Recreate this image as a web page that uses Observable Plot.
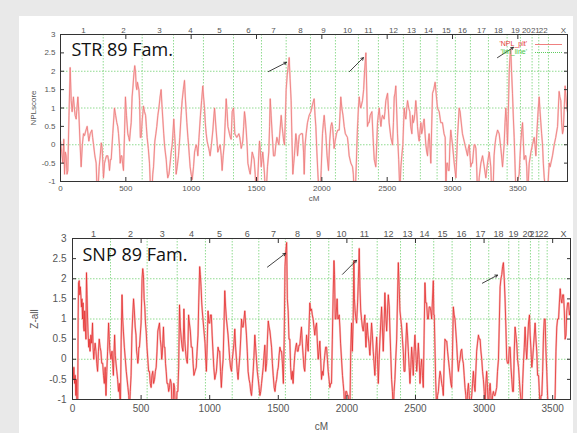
<!DOCTYPE html>
<html><head><meta charset="utf-8">
<script src="https://cdn.jsdelivr.net/npm/d3@7"></script>
<script src="https://cdn.jsdelivr.net/npm/@observablehq/plot@0.6"></script>
<style>
html,body{margin:0;padding:0;background:#e9e9e9;}
#page{position:relative;width:577px;height:433px;overflow:hidden;background:#e9e9e9;}
#sheet{position:absolute;left:19px;top:16px;width:554px;height:417px;background:#fff;}
#top{position:absolute;left:0;top:0;}
#bot{position:absolute;left:0;top:205px;}
.leg{position:absolute;font:7px "Liberation Sans",Arial,sans-serif;text-align:right;width:60px;line-height:8px;}
.legline{position:absolute;height:0;width:27px;}
</style></head><body>
<div id="page">
<div id="sheet"></div>
<div id="top"></div>
<div id="bot"></div>
<div class="leg" style="left:467px;top:40px;color:#e53a3a">'NPL_plt'</div>
<div class="legline" style="left:535px;top:44px;border-top:1px solid #ef8080"></div>
<div class="leg" style="left:467px;top:48px;color:#45c845">'lim_line'</div>
<div class="legline" style="left:535px;top:52px;border-top:1px dotted #60cc60"></div>
</div>
<script>
const chromNames = ["1","2","3","4","5","6","7","8","9","10","11","12","13","14","15","16","17","18","19","20","21","22","X"];
const yTicks = [-1,-0.5,0,0.5,1,1.5,2,2.5,3];
const xTicks = [0,500,1000,1500,2000,2500,3000,3500];
const gridY = [-1,0,1,2];

// STR panel
const strChromPos = [176,482,757,995,1217,1438,1630,1836,2012,2196,2357,2548,2686,2816,2953,3076,3221,3351,3481,3565,3634,3695,3849];
const strBounds = [327,625,865,1094,1324,1538,1727,1913,2104,2280,2433,2624,2754,2882,3022,3137,3275,3418,3520,3609,3660,3734];
const strArrows = [[1591,1.99,1729,2.24],[2211,1.99,2318,2.37],[3344,2.37,3466,2.65]];
const strCurve = [
[0,0.1],[18,-0.5],[25,0.15],[31,-0.8],[37,-0.2],[43,-0.3],[50,-0.8],[56,-0.7],[65,0.8],[74,2.1],[82,1.2],[89,0.9],[99,1.3],[106,1.0],[112,0.8],[120,0.7],[126,1.0],[133,1.3],[140,0.9],[150,0.0],[158,-0.6],[167,0.0],[176,0.3],[184,0.25],[191,0.35],[204,0.5],[212,0.25],[217,0.1],[227,0.3],[240,0.4],[246,0.2],[253,0.0],[263,-0.3],[273,-0.5],[280,-1.3],[286,-1.3],[296,-0.6],[304,-0.3],[312,0.05],[319,-0.1],[329,-0.9],[337,-0.5],[344,-0.4],[352,-0.3],[362,-0.3],[370,-0.5],[375,-0.7],[382,-0.4],[388,-0.4],[400,0.3],[413,1.0],[422,0.8],[431,0.6],[438,0.5],[444,0.3],[452,-0.1],[457,-0.5],[463,-0.3],[469,-0.3],[475,-0.5],[482,-0.7],[490,0.3],[497,1.3],[505,0.8],[515,0.3],[522,0.2],[528,0.1],[535,0.4],[541,0.6],[548,1.3],[555,1.6],[561,1.9],[568,2.15],[574,2.0],[579,1.6],[584,1.5],[589,1.7],[594,1.6],[600,1.5],[605,1.2],[611,0.2],[617,0.2],[626,0.7],[635,1.05],[643,0.9],[651,0.8],[657,0.5],[663,0.2],[672,-0.1],[681,-0.5],[690,-1.3],[699,-1.3],[706,-0.8],[712,-0.6],[722,0.1],[730,0.3],[737,0.5],[745,0.8],[753,1.0],[762,1.3],[770,1.5],[776,1.1],[783,0.7],[790,0.3],[796,0.0],[802,-0.2],[809,-0.4],[815,-0.7],[821,-0.9],[830,-0.8],[839,-0.5],[847,-0.2],[855,0.0],[862,0.4],[867,0.7],[873,0.3],[878,0.0],[885,-0.8],[893,-0.6],[903,-0.3],[913,0.2],[923,0.8],[931,1.2],[940,1.5],[949,1.75],[955,1.3],[962,0.9],[967,0.6],[975,0.2],[980,0.0],[986,-0.3],[992,-0.6],[1000,-0.8],[1008,-0.95],[1018,-0.6],[1026,-0.2],[1032,-0.1],[1038,0.0],[1045,-0.1],[1051,-0.3],[1060,0.2],[1071,0.8],[1080,1.2],[1089,1.6],[1095,1.3],[1102,1.0],[1108,0.6],[1115,0.3],[1122,0.1],[1128,0.0],[1135,-0.1],[1145,-0.3],[1155,0.0],[1166,0.4],[1172,0.7],[1179,1.0],[1185,0.7],[1191,0.4],[1198,0.1],[1204,-0.2],[1212,-0.1],[1222,0.0],[1230,-0.3],[1237,-0.7],[1245,-0.3],[1253,0.0],[1260,0.6],[1268,1.25],[1275,0.9],[1281,0.5],[1287,0.4],[1293,0.3],[1300,0.2],[1306,0.15],[1314,0.9],[1324,1.0],[1329,0.7],[1334,0.3],[1341,0.25],[1349,0.2],[1357,0.25],[1365,0.3],[1372,0.2],[1383,-0.1],[1390,0.0],[1395,0.1],[1402,0.5],[1408,0.9],[1415,0.7],[1421,0.4],[1428,0.0],[1434,-0.5],[1445,-0.7],[1452,-0.8],[1460,-0.5],[1467,-0.2],[1475,-0.3],[1482,-0.4],[1490,-0.8],[1497,-1.3],[1505,-1.3],[1510,-0.9],[1517,-0.3],[1523,0.1],[1530,-0.2],[1536,-0.6],[1542,-0.4],[1548,-0.2],[1555,-0.5],[1561,-0.8],[1568,-1.3],[1574,-1.3],[1584,-0.6],[1594,-0.2],[1600,0.5],[1605,1.25],[1612,0.8],[1620,0.3],[1625,0.0],[1630,-0.3],[1640,-0.3],[1648,0.0],[1656,0.2],[1663,0.1],[1671,0.0],[1680,0.4],[1689,0.8],[1696,0.5],[1702,0.3],[1708,0.1],[1714,0.0],[1720,0.6],[1727,1.5],[1735,1.9],[1742,2.1],[1750,2.37],[1757,1.8],[1765,1.2],[1771,0.2],[1778,-0.8],
[1785,-0.5],[1790,-0.3],[1801,0.3],[1808,0.1],[1814,-0.3],[1821,0.0],[1827,0.25],[1840,0.3],[1852,0.3],[1860,-0.2],[1865,-0.8],[1872,0.0],[1880,0.3],[1890,0.6],[1903,0.8],[1916,0.9],[1929,1.1],[1941,1.25],[1948,0.8],[1954,0.5],[1962,-0.2],[1970,-0.8],[1978,-1.3],[1988,-1.3],[1995,-0.7],[2005,0.3],[2012,0.6],[2018,0.8],[2025,0.5],[2031,0.25],[2040,-0.3],[2051,-0.7],[2060,0.1],[2069,0.5],[2076,0.6],[2082,0.5],[2088,0.2],[2094,-0.1],[2102,0.1],[2112,0.3],[2122,0.4],[2133,0.4],[2140,0.9],[2145,1.3],[2153,1.0],[2162,0.8],[2171,0.5],[2180,0.3],[2196,0.2],[2202,0.0],[2209,-0.3],[2222,-0.5],[2235,-0.6],[2241,-0.8],[2247,-1.3],[2256,-1.3],[2264,-0.5],[2272,0.4],[2280,1.0],[2286,1.3],[2292,1.1],[2298,1.0],[2311,1.2],[2320,1.5],[2327,2.0],[2337,2.5],[2343,1.6],[2349,0.5],[2356,0.6],[2362,0.6],[2370,0.8],[2383,0.9],[2392,0.2],[2401,-0.4],[2413,-0.6],[2420,0.0],[2426,0.6],[2432,0.8],[2439,1.0],[2446,0.7],[2452,0.5],[2458,0.7],[2464,0.8],[2477,0.7],[2483,0.9],[2490,1.2],[2496,1.3],[2503,1.4],[2509,1.0],[2515,0.6],[2528,0.2],[2541,0.0],[2548,0.6],[2554,1.3],[2560,1.4],[2566,1.6],[2572,1.0],[2579,0.3],[2588,-0.4],[2597,-1.3],[2605,-0.6],[2612,-0.3],[2620,0.0],[2630,1.0],[2636,0.8],[2643,0.7],[2650,1.0],[2656,1.2],[2665,1.0],[2673,0.9],[2680,0.5],[2689,0.3],[2694,0.8],[2700,0.6],[2707,0.7],[2713,0.9],[2719,1.2],[2726,0.9],[2732,0.5],[2740,0.2],[2745,0.1],[2752,0.4],[2758,0.6],[2764,0.3],[2770,0.4],[2777,0.6],[2783,0.7],[2790,0.3],[2796,0.0],[2803,-0.2],[2809,-0.3],[2815,0.1],[2821,0.3],[2828,-0.1],[2834,-0.5],[2840,0.4],[2847,1.4],[2856,1.5],[2867,1.7],[2877,1.3],[2885,1.0],[2898,0.9],[2910,0.6],[2923,0.6],[2935,0.3],[2944,0.2],[2949,-1.3],[2956,-0.5],[2962,-0.5],[2968,-0.7],[2974,-0.7],[2980,0.0],[2987,0.4],[2993,0.2],[3000,0.0],[3013,-0.5],[3026,-0.9],[3038,0.2],[3051,1.0],[3058,0.9],[3064,0.7],[3076,0.3],[3089,0.1],[3102,-0.1],[3115,-0.3],[3121,-0.1],[3128,0.0],[3134,-0.3],[3140,-0.6],[3147,-0.5],[3153,-0.5],[3160,-0.2],[3166,0.0],[3172,0.0],[3179,-0.1],[3185,-0.6],[3191,-1.3],[3198,-1.3],[3204,-0.9],[3217,-0.5],[3230,-0.3],[3243,-0.6],[3255,-0.9],[3268,-0.5],[3281,-0.2],[3293,-0.6],[3300,-1.3],[3310,-1.3],[3318,-0.3],[3325,0.0],[3332,0.2],[3345,0.4],[3357,0.3],[3370,-0.1],[3383,-0.6],[3395,0.0],[3402,0.6],[3408,1.0],[3415,0.6],[3421,0.0],[3428,1.0],[3434,2.0],[3440,2.4],[3446,2.6],[3452,2.0],[3459,1.4],[3466,0.7],[3472,0.2],[3478,-0.5],[3485,-1.3],[3497,-1.0],[3510,-0.8],[3517,-0.3],[3523,0.1],[3530,0.4],[3536,0.6],[3542,0.1],[3548,-0.4],[3555,-0.3],[3561,-0.3],[3568,-0.6],[3574,-1.3],[3580,-1.0],[3587,-0.5],[3600,-0.2],[3612,0.0],[3625,0.2],[3631,0.0],[3638,-0.3],[3645,0.3],[3655,0.9],[3663,1.3],[3670,0.9],[3676,0.6],[3682,0.3],[3689,0.0],[3695,-0.5],[3702,-0.9],[3714,-1.3],[3727,-1.3],[3740,-0.5],[3747,-0.6],[3753,-0.5],[3765,-0.3],[3778,0.0],[3790,0.2],[3804,0.5],[3810,1.0],[3816,1.45],[3822,1.3],[3829,1.2],[3835,0.6],[3842,0.3],[3848,0.4],[3855,1.0],[3862,1.6],[3868,1.3],[3875,1.0],[3880,0.9]
];

// SNP panel
const snpChromPos = [153,423,654,867,1071,1273,1465,1640,1793,1961,2128,2303,2442,2566,2697,2835,2974,3105,3214,3316,3367,3433,3579];
const snpBounds = [277,544,763,969,1164,1358,1552,1735,1868,2039,2221,2391,2500,2633,2767,2901,3034,3180,3253,3338,3399,3460];
const snpArrows = [[1421,2.29,1552,2.63],[1968,2.11,2070,2.46],[2988,1.89,3098,2.09]];
const snpCurve = [
[0,-0.3],[5,-0.5],[10,-0.2],[15,-0.6],[20,-0.4],[24,-0.9],[28,-0.5],[33,-1.3],[38,-1.3],[41,1.0],[44,1.9],[49,1.95],[53,1.6],[57,1.8],[61,1.6],[65,1.3],[69,1.5],[73,1.0],[77,1.4],[81,0.8],[85,0.7],[89,1.2],[93,0.9],[98,0.5],[100,1.5],[102,2.15],[106,1.6],[110,1.0],[114,0.6],[118,0.3],[122,0.5],[128,0.2],[134,0.6],[140,0.4],[146,0.9],[150,0.3],[155,0.0],[159,0.2],[165,0.4],[171,0.2],[177,-0.1],[183,-0.3],[189,0.2],[195,0.5],[201,0.3],[207,0.2],[213,-0.1],[220,-0.1],[226,-0.4],[232,-0.6],[238,-0.2],[244,-0.9],[250,-0.3],[256,0.2],[263,0.9],[268,0.5],[273,0.2],[280,0.0],[288,0.2],[293,-0.1],[298,-0.4],[303,0.2],[307,0.6],[312,0.1],[317,-0.1],[323,-0.3],[329,-0.5],[335,-0.8],[341,-0.6],[346,-1.0],[349,-1.3],[355,0.5],[361,1.6],[366,1.0],[371,0.7],[378,0.3],[385,0.0],[392,-0.3],[398,-0.5],[404,-0.7],[410,-0.9],[415,-1.3],[421,-0.8],[427,-0.4],[433,0.6],[439,1.1],[445,1.5],[451,1.2],[457,0.8],[463,0.6],[467,0.2],[471,0.1],[476,-0.1],[480,0.0],[484,0.3],[488,0.3],[494,0.6],[500,0.9],[504,1.5],[507,2.0],[512,2.25],[517,2.1],[522,1.5],[527,1.3],[532,0.9],[537,0.7],[543,0.3],[549,0.0],[555,-0.3],[561,-0.3],[567,-0.6],[573,-0.7],[579,-0.4],[585,-0.3],[591,-0.6],[598,-0.5],[604,-0.3],[610,-0.2],[616,0.2],[622,0.7],[628,0.8],[634,0.9],[640,0.5],[646,0.3],[650,0.0],[654,0.1],[658,0.4],[663,0.8],[668,0.3],[673,0.3],[678,-0.1],[683,-0.3],[689,-0.6],[695,-0.6],[701,-0.8],[707,-0.7],[713,-0.5],[720,-0.6],[726,-1.3],[732,-1.3],[738,-0.6],[744,-0.7],[750,-1.3],[756,-1.3],[762,-0.8],[768,-0.8],[774,-0.2],[780,1.35],[786,0.8],[793,0.5],[799,0.3],[805,0.2],[810,0.8],[812,1.25],[818,0.5],[824,0.2],[830,0.0],[837,-0.1],[842,0.4],[846,1.1],[852,0.9],[859,0.7],[866,0.3],[873,0.3],[879,-0.1],[885,-0.4],[893,-0.3],[902,-0.2],[908,0.2],[915,0.6],[920,1.4],[927,2.3],[932,2.1],[937,1.8],[942,1.4],[946,1.2],[951,1.0],[956,0.8],[961,0.6],[966,0.4],[971,0.0],[976,-0.3],[982,0.4],[988,1.2],[994,0.9],[1000,0.9],[1006,1.1],[1012,1.1],[1018,0.6],[1024,0.2],[1030,-0.2],[1037,-0.5],[1043,-0.4],[1049,-0.3],[1055,0.0],[1061,0.3],[1067,0.2],[1073,0.2],[1079,-0.3],[1085,-0.7],[1091,-0.3],[1098,0.0],[1104,0.8],[1110,1.7],[1116,1.3],[1122,1.0],[1128,0.8],[1134,0.6],[1140,0.3],[1146,0.0],[1152,-0.2],[1159,-0.3],[1165,0.0],[1171,0.2],[1177,0.4],[1183,0.75],[1189,0.3],[1195,0.0],[1201,-0.3],[1207,-0.5],[1213,-0.2],[1220,0.1],[1226,0.5],[1232,1.0],[1238,0.8],[1244,0.8],[1250,1.0],[1256,1.2],[1262,0.9],[1268,0.6],[1274,0.2],[1280,-0.3],[1287,-0.5],[1293,-0.6],[1299,-0.8],[1305,-0.9],[1311,-0.6],[1317,-0.3],[1323,0.1],[1329,0.6],[1335,0.3],[1341,0.0],[1347,-0.3],[1354,-0.5],[1360,-0.7],[1366,-0.9],[1372,-0.8],[1378,-0.6],[1384,-0.4],[1390,-0.2],[1396,0.1],[1402,0.35],[1408,-0.3],[1415,-0.1],[1421,0.5],[1427,0.95],[1433,0.8],[1439,0.7],[1445,0.5],[1451,0.3],[1457,-0.1],[1463,-0.4],[1470,-0.7],[1476,-0.8],[1482,-0.6],[1488,-0.5],[1494,-0.3],[1500,-0.2],[1506,0.1],[1512,0.3],[1518,0.2],[1524,0.2],[1530,-0.1],[1537,-0.6],[1543,0.5],[1549,2.3],[1555,2.7],[1561,2.9],[1566,1.5],[1572,1.2],
[1578,0.5],[1584,0.5],[1590,-0.2],[1596,-0.5],[1602,-0.3],[1608,-0.6],[1614,-0.2],[1620,0.1],[1627,0.3],[1633,0.4],[1639,0.2],[1645,0.2],[1651,0.35],[1657,0.35],[1663,0.6],[1669,0.8],[1675,0.4],[1681,0.1],[1687,-0.2],[1693,-0.3],[1700,0.2],[1706,0.6],[1712,0.4],[1718,0.2],[1724,0.8],[1730,1.4],[1736,1.2],[1742,1.25],[1748,1.1],[1754,1.0],[1760,0.8],[1766,0.6],[1772,0.8],[1779,0.9],[1785,0.4],[1791,0.0],[1797,0.2],[1803,0.45],[1809,0.0],[1815,-0.5],[1821,-0.3],[1827,-0.4],[1833,-0.1],[1839,0.1],[1845,0.3],[1852,0.3],[1858,0.0],[1864,-0.3],[1870,-0.5],[1876,-0.7],[1882,-0.6],[1888,-0.6],[1894,0.5],[1900,1.6],[1906,2.45],[1910,2.1],[1915,1.0],[1920,1.0],[1925,1.3],[1929,1.5],[1934,1.0],[1937,1.0],[1944,1.1],[1949,0.8],[1954,0.4],[1961,0.0],[1968,-0.4],[1973,-0.6],[1978,-0.8],[1985,-1.3],[1992,-0.8],[1998,-0.8],[2004,-0.9],[2010,-0.9],[2016,-1.3],[2022,-1.3],[2028,0.2],[2034,0.9],[2040,0.2],[2046,1.0],[2051,2.45],[2055,1.5],[2060,1.2],[2066,1.0],[2071,0.9],[2078,1.4],[2084,2.0],[2090,2.75],[2095,1.8],[2101,1.2],[2107,1.0],[2113,0.8],[2119,0.7],[2125,0.9],[2131,1.1],[2135,0.6],[2139,0.3],[2143,0.6],[2148,0.9],[2154,0.6],[2161,0.4],[2165,0.2],[2168,0.1],[2174,0.5],[2180,0.9],[2186,0.6],[2192,0.2],[2198,-0.1],[2204,-0.4],[2210,0.1],[2217,0.55],[2223,0.0],[2229,-0.6],[2235,0.0],[2241,0.5],[2247,0.9],[2253,1.3],[2259,0.8],[2265,0.2],[2271,0.8],[2277,1.65],[2283,1.1],[2290,0.7],[2296,1.2],[2302,1.6],[2309,1.3],[2314,0.7],[2319,0.2],[2326,-0.5],[2332,-0.8],[2338,-1.3],[2344,-0.8],[2350,-0.5],[2356,0.0],[2363,0.5],[2369,1.5],[2375,2.4],[2381,1.8],[2387,1.2],[2393,1.0],[2399,0.8],[2405,0.5],[2411,0.2],[2417,-0.3],[2423,-0.3],[2430,0.4],[2436,0.9],[2442,0.6],[2448,0.2],[2454,-0.2],[2460,-0.6],[2466,-0.2],[2472,0.3],[2478,0.0],[2484,-0.4],[2490,0.2],[2496,0.6],[2502,0.2],[2509,-0.3],[2515,0.0],[2521,0.4],[2527,0.0],[2533,-0.6],[2539,-0.2],[2545,0.0],[2551,-0.4],[2557,-0.7],[2563,0.6],[2569,1.9],[2575,1.4],[2581,1.4],[2588,1.0],[2594,1.0],[2600,1.3],[2606,1.3],[2612,1.2],[2618,1.0],[2624,1.5],[2630,1.95],[2634,1.1],[2637,1.1],[2642,0.3],[2647,-0.5],[2655,-1.3],[2661,-0.9],[2667,-0.8],[2673,-0.5],[2679,-0.3],[2685,-0.4],[2691,-0.6],[2697,-0.7],[2703,-0.9],[2709,-0.1],[2715,0.5],[2722,0.45],[2728,0.45],[2734,0.2],[2740,0.0],[2746,-0.2],[2752,-0.4],[2758,-0.6],[2764,-0.7],[2770,0.2],[2776,1.3],[2782,1.1],[2788,1.0],[2794,0.7],[2800,0.4],[2806,0.0],[2813,-0.3],[2819,-0.1],[2825,0.0],[2831,0.2],[2837,0.25],[2843,0.0],[2849,-0.1],[2855,-0.4],[2861,-0.7],[2867,-0.9],[2873,-1.3],[2880,-0.8],[2886,-0.6],[2892,-0.9],[2898,-1.3],[2904,-1.1],[2910,-0.9],[2916,-0.6],[2922,-0.3],[2928,-0.6],[2934,-0.8],[2940,-0.3],[2946,0.2],[2952,0.4],[2959,0.6],[2965,0.5],[2971,0.5],[2977,0.2],[2983,0.0],[2989,-0.3],[2995,-0.5],[3001,-0.8],[3007,-1.3],[3013,-0.6],[3019,-0.3],[3025,-0.7],[3032,-1.3],[3038,-0.8],[3044,-0.6],[3050,-0.9],[3056,-1.3],[3062,-0.9],[3068,-0.8],[3074,-0.9],[3080,-0.9],[3086,-0.8],[3092,-0.7],[3098,-0.3],[3105,0.0],[3111,0.9],[3117,1.8],[3123,2.0],[3129,2.1],[3135,2.3],[3141,2.4],[3147,2.0],[3153,1.5],[3159,0.8],[3165,0.0],[3171,-0.1],[3178,-0.1],[3184,0.3],[3190,0.3],[3196,-0.2],[3202,-0.5],[3208,-0.8],[3214,-0.8],[3220,0.2],[3226,0.8],[3232,0.6],[3238,0.4],[3244,0.0],[3251,-0.2],[3257,-0.5],[3263,-0.8],[3269,-1.0],[3275,-1.3],[3281,-0.6],[3287,-0.1],[3293,0.3],[3299,0.8],[3305,0.3],[3311,0.0],[3318,0.5],[3324,0.9],[3331,1.1],[3336,0.6],[3341,0.3],[3348,-0.2],[3354,0.0],[3360,0.3],[3366,0.6],[3372,0.9],[3378,0.5],[3384,0.2],[3390,-0.4],[3397,-0.4],[3403,-0.8],[3409,-1.3],[3415,-0.9],[3421,-0.9],[3427,-0.3],[3433,0.6],[3439,1.0],[3445,1.0],[3451,0.2],[3457,-0.3],[3463,-0.9],[3469,-1.3],[3476,-1.3],[3482,-1.3],[3488,-1.3],[3494,-1.3],[3500,-1.3],[3506,-1.3],[3512,-1.3],[3518,-0.9],[3524,0.2],[3530,0.8],[3536,1.0],[3543,1.0],[3549,1.4],[3555,1.75],[3561,1.5],[3567,1.4],[3573,1.6],[3579,1.6],[3585,1.2],[3591,0.5],[3597,0.6],[3603,1.2],[3609,1.4],[3616,1.4],[3622,1.1],[3628,1.2]
];

const fmt = d => String(d);
const green = "#74d274";

function panel(o) {
  return Plot.plot({
    width: 577, height: o.height,
    marginLeft: o.ml, marginRight: o.mr, marginTop: o.mt, marginBottom: o.mb,
    x: {domain: o.xdom},
    y: {domain: [-1, 3]},
    style: {fontFamily: "'Liberation Sans', Arial, sans-serif", fontSize: o.fs + "px", color: "#555", background: "transparent"},
    marks: [
      Plot.ruleX(o.bounds, {stroke: green, strokeWidth: 0.8, strokeDasharray: "1.5,1.5"}),
      Plot.ruleY(gridY, {stroke: green, strokeWidth: 0.8, strokeDasharray: "1.5,1.5"}),
      Plot.line(o.curve, {x: d => d[0], y: d => d[1], stroke: o.halo, strokeWidth: o.hw, clip: true}),
      Plot.line(o.curve, {x: d => d[0], y: d => d[1], stroke: o.core, strokeWidth: o.cw, clip: true}),
      Plot.frame({stroke: "#333", strokeWidth: 1}),
      Plot.axisY({anchor: "left", ticks: yTicks, tickSize: 0, tickPadding: o.typ, tickFormat: fmt,
        label: o.ylabel, labelAnchor: "center", labelOffset: o.ylo, labelArrow: "none"}),
      Plot.axisY({anchor: "left", ticks: yTicks, tickSize: -4, fill: "none", label: null, stroke: "#333"}),
      Plot.axisY({anchor: "right", ticks: yTicks, tickSize: -4, fill: "none", label: null, stroke: "#333"}),
      Plot.axisX({anchor: "bottom", ticks: xTicks, tickSize: 0, tickPadding: o.txp, tickFormat: fmt,
        label: "cM", labelAnchor: "center", labelOffset: o.xlo, labelArrow: "none"}),
      Plot.axisX({anchor: "bottom", ticks: xTicks, tickSize: -4, fill: "none", label: null, stroke: "#333"}),
      Plot.axisX({anchor: "top", ticks: xTicks, tickSize: -4, fill: "none", label: null, stroke: "#333"}),
      Plot.text(chromNames, {x: (d, i) => o.chromPos[i], text: d => d, frameAnchor: "top", dy: o.cdy, fill: "#555", fontSize: o.cfs}),
      Plot.arrow(o.arrows, {x1: d => d[0], y1: d => d[1], x2: d => d[2], y2: d => d[3], stroke: "#111", strokeWidth: 0.8, headLength: 5}),
      Plot.text([o.title], {text: d => d, frameAnchor: "top-left", dx: o.tdx, dy: o.tdy, lineAnchor: "top", textAnchor: "start",
        fontSize: o.tfs, fontFamily: "'Open Sans', Lato, sans-serif", fill: "#111"})
    ]
  });
}

document.getElementById("top").append(panel({
  height: 203, ml: 60, mr: 10, mt: 34, mb: 22, xdom: [0, 3880], fs: 8, cfs: 8,
  bounds: strBounds, curve: strCurve, chromPos: strChromPos, arrows: strArrows,
  halo: "#f9cfcf", hw: 1.8, core: "#ee7676", cw: 0.8,
  typ: 5, ylabel: "NPLscore", ylo: 30, txp: 4, xlo: 19, cdy: -7,
  title: "STR 89 Fam.", tdx: 11, tdy: 9, tfs: 18
}));

document.getElementById("bot").append(panel({
  height: 228, ml: 72, mr: 7, mt: 33, mb: 34, xdom: [0, 3630], fs: 10, cfs: 9,
  bounds: snpBounds, curve: snpCurve, chromPos: snpChromPos, arrows: snpArrows,
  halo: "#f7bcbc", hw: 2, core: "#e43030", cw: 0.8,
  typ: 6, ylabel: "Z-all", ylo: 42, txp: 5, xlo: 30, cdy: -8,
  title: "SNP 89 Fam.", tdx: 10, tdy: 10, tfs: 18
}));
</script>
</body></html>
